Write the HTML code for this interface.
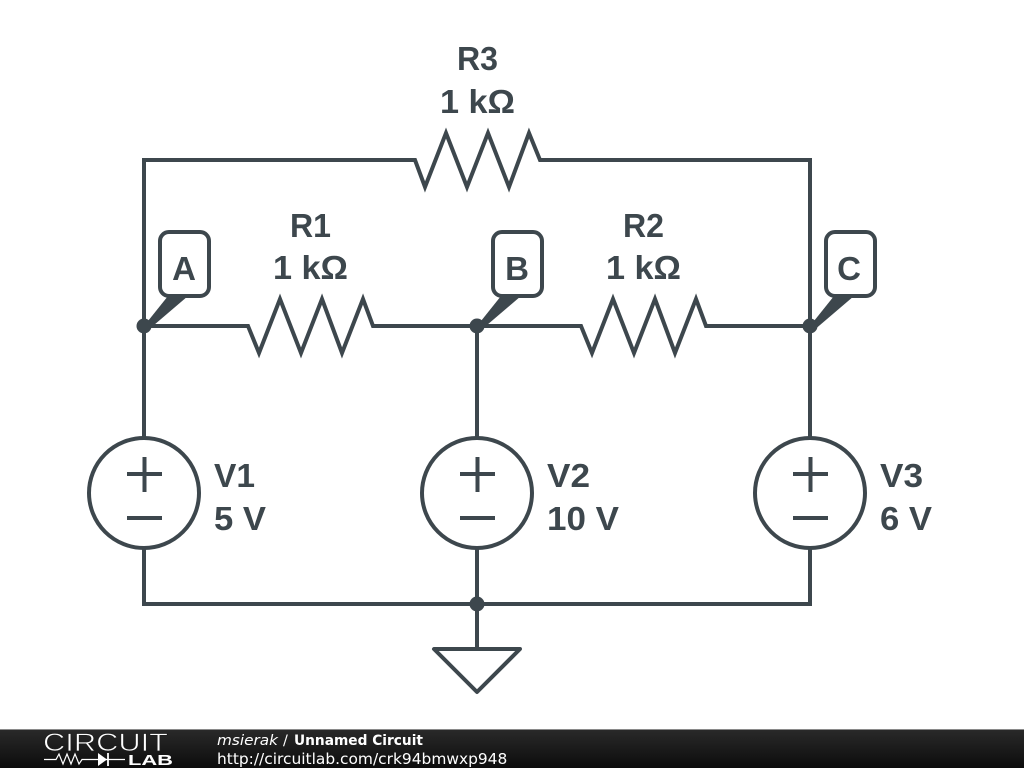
<!DOCTYPE html>
<html><head><meta charset="utf-8"><style>
html,body{margin:0;padding:0;width:1024px;height:768px;overflow:hidden;background:#fff}
svg{display:block}
</style></head><body>
<svg width="1024" height="768" viewBox="0 0 1024 768" xmlns="http://www.w3.org/2000/svg">
<defs><linearGradient id="g" x1="0" y1="0" x2="0" y2="1"><stop offset="0" stop-color="#2a2a2a"/><stop offset="1" stop-color="#0c0c0c"/></linearGradient></defs>
<g fill="none" stroke="#3d474d" stroke-width="4" stroke-linejoin="miter">
<path d="M144 437V160H415L425 187L446 133L467 187L488 133L509 187L529 133L540 160H810V437"/>
<path d="M144 326H248L259 353L280 299L301 353L322 299L342 353L363 299L373 326H581L592 353L613 299L634 353L655 299L675 353L696 299L706 326H810"/>
<path d="M477 326V437M144 549V604H810V549M477 549V648"/>
<circle cx="144" cy="493" r="55"/><circle cx="477" cy="493" r="55"/><circle cx="810" cy="493" r="55"/>
<path d="M127 474H162M144.500 457V492M127 518H162M460 474H495M477.500 457V492M460 518H495M793 474H828M810.500 457V492M793 518H828"/>
<path d="M434 649H520L477 692Z" stroke-linejoin="round"/>
<rect x="160" y="232" width="49" height="64" rx="9"/><rect x="493" y="232" width="49" height="64" rx="9"/><rect x="826" y="232" width="49" height="64" rx="9"/>
</g>
<g fill="#3d474d">
<path d="M144 326L168 296H188L147 331Z"/><path d="M477 326L501 296H521L480 331Z"/><path d="M810 326L834 296H854L813 331Z"/>
<circle cx="144" cy="326" r="7.500"/><circle cx="477" cy="326" r="7.500"/><circle cx="810" cy="326" r="7.500"/><circle cx="477" cy="604" r="7.500"/>
</g>
<g fill="#3d474d" font-family="'Liberation Sans',sans-serif" font-weight="700" font-size="33" text-anchor="middle" lengthAdjust="spacingAndGlyphs">
<text x="477.500" y="70" textLength="41" lengthAdjust="spacingAndGlyphs">R3</text><text x="477.500" y="113" textLength="75" lengthAdjust="spacingAndGlyphs">1 kΩ</text>
<text x="310.500" y="237" textLength="41" lengthAdjust="spacingAndGlyphs">R1</text><text x="310.500" y="279" textLength="75" lengthAdjust="spacingAndGlyphs">1 kΩ</text>
<text x="643.500" y="237" textLength="41" lengthAdjust="spacingAndGlyphs">R2</text><text x="643.500" y="279" textLength="75" lengthAdjust="spacingAndGlyphs">1 kΩ</text>
<text x="184" y="280">A</text><text x="517" y="280">B</text><text x="849" y="280">C</text>
</g>
<g fill="#3d474d" font-family="'Liberation Sans',sans-serif" font-weight="700" font-size="33">
<text x="214" y="487" textLength="41" lengthAdjust="spacingAndGlyphs">V1</text><text x="214" y="530" textLength="52" lengthAdjust="spacingAndGlyphs">5 V</text>
<text x="547" y="487" textLength="43" lengthAdjust="spacingAndGlyphs">V2</text><text x="547" y="530" textLength="72" lengthAdjust="spacingAndGlyphs">10 V</text>
<text x="880" y="487" textLength="43" lengthAdjust="spacingAndGlyphs">V3</text><text x="880" y="530" textLength="52" lengthAdjust="spacingAndGlyphs">6 V</text>
</g>
<rect x="0" y="729" width="1024" height="39" fill="url(#g)"/>
<rect x="0" y="729" width="1024" height="1" fill="#8a8a8a"/>
<text x="43" y="751" font-family="'Liberation Sans',sans-serif" font-size="25" fill="#fff" stroke="#1f1f1f" stroke-width="0.700" paint-order="fill stroke" textLength="125" lengthAdjust="spacingAndGlyphs">CIRCUIT</text>
<path d="M44 759.500H56L59 754L63 764L67 754L71 764L75 754L79 764L82 759.500H125" fill="none" stroke="#fff" stroke-width="1.200"/>
<path d="M98 753V766L107 759.500Z" fill="#fff"/><path d="M108 753V766" stroke="#fff" stroke-width="1.800"/>
<text x="128" y="765" font-family="'Liberation Sans',sans-serif" font-weight="700" font-size="15" fill="#fff" textLength="45" lengthAdjust="spacingAndGlyphs">LAB</text>
<g font-family="'DejaVu Sans',sans-serif" font-size="14.350" fill="#fff">
<text x="217" y="745" font-style="italic" textLength="61" lengthAdjust="spacingAndGlyphs">msierak</text>
<text x="283" y="745">/</text>
<text x="294" y="745" font-weight="700" textLength="129" lengthAdjust="spacingAndGlyphs">Unnamed Circuit</text>
</g>
<text x="217" y="764" font-family="'DejaVu Sans',sans-serif" font-size="15.430" fill="#fff">http://circuitlab.com/crk94bmwxp948</text>
</svg>
</body></html>
